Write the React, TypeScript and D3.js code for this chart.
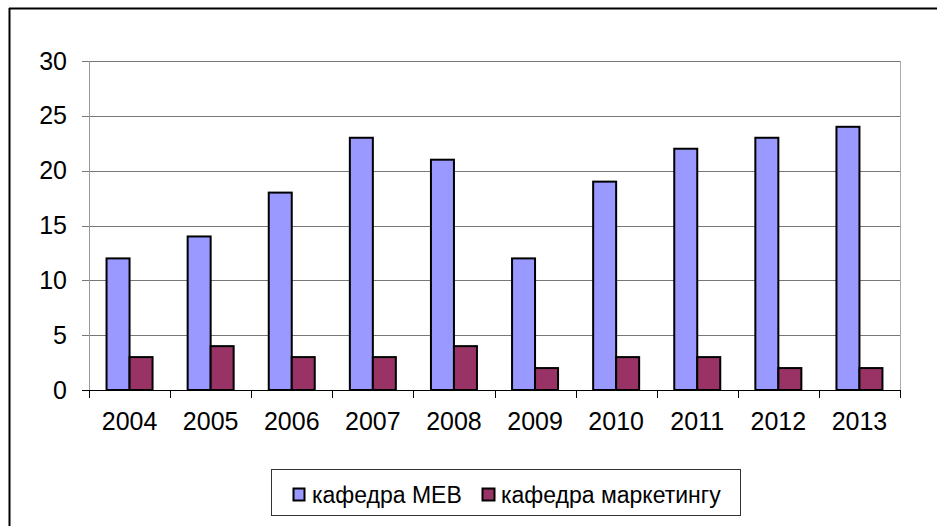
import React from "react";
import * as d3 from "d3";

const years = ["2004", "2005", "2006", "2007", "2008", "2009", "2010", "2011", "2012", "2013"];
const mev = [12, 14, 18, 23, 21, 12, 19, 22, 23, 24];
const marketing = [3, 4, 3, 3, 4, 2, 3, 3, 2, 2];
const seriesNames = ["кафедра МЕВ", "кафедра маркетингу"];
const seriesColors = ["#9999FF", "#993366"];
const yTicks = [0, 5, 10, 15, 20, 25, 30];

export default function App() {
  const W = 937, H = 526;
  const left = 89, right = 900, top = 61, bottom = 390;
  const x = d3.scaleBand<string>().domain(years).range([left, right]).paddingInner(0).paddingOuter(0);
  const y = d3.scaleLinear().domain([0, 30]).range([bottom, top]);
  const barW = 23;
  const font = "'Liberation Sans', Arial, sans-serif";
  const series = [mev, marketing];

  return (
    <svg width={W} height={H} style={{ position: "absolute", left: 0, top: 0 }} fontFamily={font}>
      <rect x={0} y={0} width={W} height={H} fill="#fff" />
      <line x1={9.5} y1={8} x2={9.5} y2={H} stroke="#000" strokeWidth={2} />
      <line x1={9} y1={8.5} x2={W} y2={8.5} stroke="#000" strokeWidth={2} />
      {/* gridlines */}
      {yTicks.map((t) => (
        <line key={"g" + t} x1={left - 7} x2={right} y1={Math.round(y(t)) + 0.5} y2={Math.round(y(t)) + 0.5} stroke={t === 0 ? "#000" : "#777"} strokeWidth={1} />
      ))}
      <line x1={left + 0.5} x2={left + 0.5} y1={top} y2={bottom} stroke="#999" />
      <line x1={right + 0.5} x2={right + 0.5} y1={top} y2={bottom} stroke="#aaa" />
      {/* x ticks */}
      {d3.range(years.length + 1).map((i) => {
        const xx = Math.round(left + i * x.bandwidth()) + 0.5;
        return <line key={"xt" + i} x1={xx} x2={xx} y1={bottom} y2={bottom + 8} stroke="#000" />;
      })}
      {/* bars */}
      {series.map((vals, si) =>
        years.map((yr, i) => {
          const cx = (x(yr) as number) + x.bandwidth() / 2;
          const bx = cx - barW + si * barW;
          return (
            <rect key={si + "-" + yr} x={bx} y={y(vals[i])} width={barW} height={bottom - y(vals[i])} fill={seriesColors[si]} stroke="#000" strokeWidth={2} />
          );
        })
      )}
      {/* y labels */}
      {yTicks.map((t) => (
        <text key={"yl" + t} x={67} y={y(t) + 8.5} textAnchor="end" fontSize={25} fill="#000">{t}</text>
      ))}
      {years.map((yr) => (
        <text key={"xl" + yr} x={(x(yr) as number) + x.bandwidth() / 2} y={430} textAnchor="middle" fontSize={25} fill="#000">{yr}</text>
      ))}
      {/* legend */}
      <rect x={271.5} y={469.5} width={469} height={46} fill="#fff" stroke="#333" strokeWidth={1} />
      <rect x={293.5} y={488.5} width={11} height={12} fill={seriesColors[0]} stroke="#000" strokeWidth={2} />
      <text x={312} y={503} fontSize={23} fill="#000">{seriesNames[0]}</text>
      <rect x={482.5} y={488.5} width={12} height={12} fill={seriesColors[1]} stroke="#000" strokeWidth={2} />
      <text x={501} y={503} fontSize={23} fill="#000">{seriesNames[1]}</text>
    </svg>
  );
}
